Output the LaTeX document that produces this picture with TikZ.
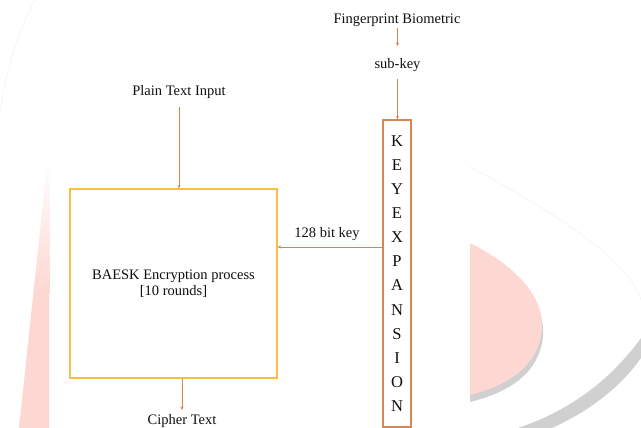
\documentclass[tikz,border=0pt]{standalone}
\usepackage{fontspec}
\setmainfont{Liberation Serif}
\usetikzlibrary{arrows.meta}
\definecolor{arrowcol}{RGB}{218,128,72}
\definecolor{keyboxcol}{RGB}{210,135,85}
\definecolor{encboxcol}{RGB}{245,192,60}
\definecolor{wmpink}{RGB}{253,215,210}
\definecolor{wmgray}{RGB}{208,208,208}
\definecolor{txtcol}{RGB}{15,15,15}
\tikzset{
  lbl/.style={inner sep=0pt, anchor=base, text=txtcol, font=\fontsize{14.5}{17}\selectfont},
  arr/.style={draw=arrowcol, line width=0.8pt, -{Stealth[length=3.5pt,width=3pt]}},
  encbox/.style={draw=encboxcol, line width=1.2pt, minimum width=207pt, minimum height=189pt, inner sep=0pt, align=center, text=txtcol, font=\fontsize{14.5}{16}\selectfont},
  keybox/.style={draw=keyboxcol, line width=1.1pt, minimum width=28pt, minimum height=307pt, inner sep=0pt, align=center, text=txtcol, font=\fontsize{16.5}{24.1}\selectfont}
}
\begin{document}
\begin{tikzpicture}[x=1pt,y=-1pt]
\useasboundingbox (0,0) rectangle (641,428);
% watermark
\draw[gray!12, line width=0.5pt] (35,0) .. controls (18,30) and (5,75) .. (0,112);
\shade[top color=white, bottom color=wmpink, middle color=wmpink] (47.5,160) -- (49.5,160) -- (49,428) -- (19,428) -- cycle;
\draw[gray!12, line width=0.5pt] (470,167) .. controls (560,215) and (630,262) .. (641,300);
\fill[wmgray] (641,338) .. controls (612,378) and (572,410) .. (518,428) -- (552,428) .. controls (592,410) and (622,385) .. (641,358) -- cycle;
\fill[wmgray, shift={(1,7)}] (469,243) .. controls (520,268) and (545,300) .. (542,330) .. controls (538,365) and (510,385) .. (469,395) -- cycle;
\fill[wmpink] (470,243) .. controls (520,268) and (545,300) .. (542,330) .. controls (538,365) and (510,385) .. (470,395) -- cycle;
% nodes
\node[lbl] (fp) at (397,24) {Fingerprint Biometric};
\node[lbl] (sk) at (397.5,69) {sub-key};
\node[lbl] (pt) at (179,96) {Plain Text Input};
\node[lbl] (bk) at (327,237) {128 bit key};
\node[lbl] (ct) at (182,424) {Cipher Text};
\node[encbox] (enc) at (173.5,283.5) {BAESK Encryption process\\{}[10 rounds]};
\node[keybox] (kx) at (397,273.5) {K\\E\\Y\\E\\X\\P\\A\\N\\S\\I\\O\\N};
% connectors
\draw[arr] ([yshift=-4pt]fp.base -| sk.base) -- ([yshift=23pt]sk.base);
\draw[arr] ([yshift=-10pt]sk.base) -- (sk.base |- kx.north);
\draw[arr] ([yshift=-11pt]pt.base) -- (pt.base |- enc.north);
\draw[arr] ([yshift=26.5pt]kx.west) -- ([yshift=26.5pt]kx.west -| enc.east);
\draw[arr] (ct.base |- enc.south) -- ([yshift=14pt]ct.base);
\end{tikzpicture}
\end{document}
